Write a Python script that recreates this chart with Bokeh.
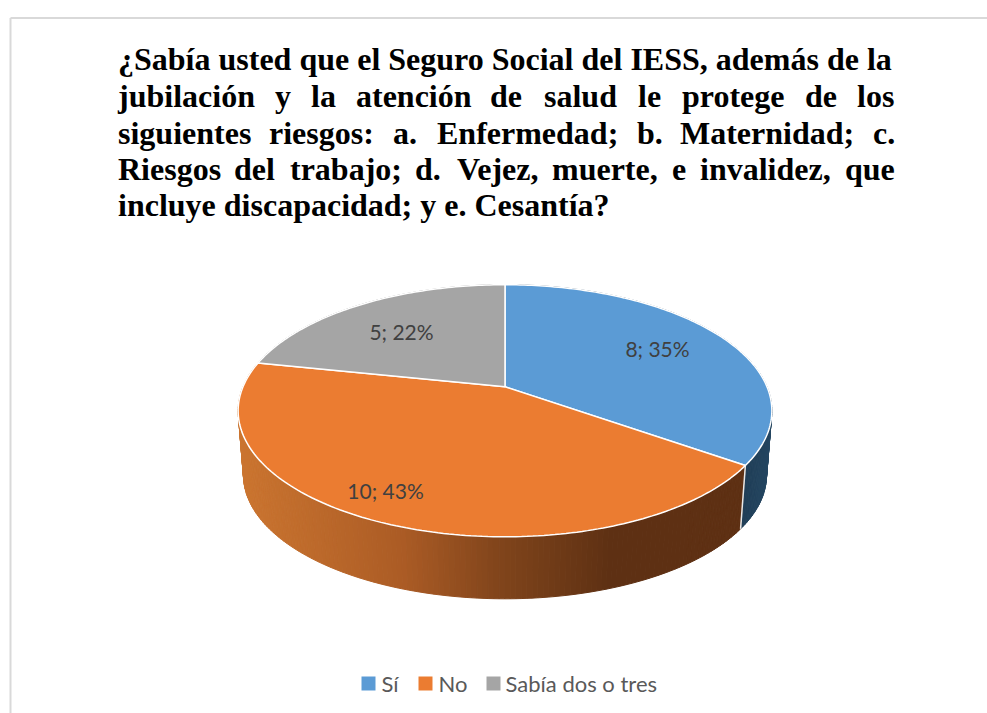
import math
from bokeh.plotting import figure
from bokeh.models import Range1d
from bokeh.core.properties import value
from bokeh.embed import file_html
from bokeh.resources import INLINE

# ---- chart data ----
categories = ["Sí", "No", "Sabía dos o tres"]
values = [8, 10, 5]
title_lines = [
    "¿Sabía usted que el Seguro Social del IESS, además de la",
    "jubilación y la atención de salud le protege de los",
    "siguientes riesgos: a. Enfermedad; b. Maternidad; c.",
    "Riesgos del trabajo; d. Vejez, muerte, e invalidez, que",
    "incluye discapacidad; y e. Cesantía?",
]

# ---- styling / layout (page pixels) ----
top_colors = ["#5B9BD5", "#EB7C31", "#A5A5A5"]
W, H = 987, 713
CX, CY = 504.5, 386.3
A, B, K = 262.0, 121.5, 0.19
DROP, SHRINK = 65.0, 0.98
SEG = 1  # degrees per rim facet
TITLE_X = {
    1: [117.5, 274.5, 310.5, 355.5, 489.5, 543.5, 637.5, 681.5, 804.5, 856.5],
    2: [117.5, 268.5, 392.5, 436.5, 636.5, 679.5, 872.5],
    3: [117.5, 233.5, 289.5, 414.5, 456.5, 551.5, 671.5, 699.5, 844.5],
}
TITLE_Y = [58.5, 95.5, 132.5, 168.5, 204.5]
LABEL_POS = [(657, 347.5), (385, 489.5), (401, 330.5)]


def project(deg, drop=0.0, scale=1.0):
    t = math.radians(deg)
    u, v = math.sin(t), -math.cos(t)
    w = 1 - K * v
    return CX + scale * A * u / w, CY + drop + scale * B * v / w


def lerp(c1, c2, f):
    f = max(0.0, min(1.0, f))
    return tuple(round(a + (b - a) * f) for a, b in zip(c1, c2))


def side_color(idx, x):
    if idx == 0:
        c = lerp((0x20, 0x3E, 0x57), (0x25, 0x47, 0x62), (x - 745) / 27)
    elif idx == 1:
        stops = [(238, (0xCB, 0x75, 0x30)), (400, (0xAC, 0x5C, 0x25)),
                 (500, (0x80, 0x44, 0x1B)), (610, (0x5E, 0x30, 0x13)),
                 (745, (0x5E, 0x30, 0x13))]
        c = stops[-1][1]
        for (x0, c0), (x1, c1) in zip(stops, stops[1:]):
            if x <= x1:
                c = lerp(c0, c1, (x - x0) / (x1 - x0))
                break
    else:
        c = (0x63, 0x63, 0x63)
    return "#%02x%02x%02x" % c


total = sum(values)
bounds = [0.0]
for val in values:
    bounds.append(bounds[-1] + 360.0 * val / total)

p = figure(width=W, height=H, output_backend="svg", toolbar_location=None,
           x_range=Range1d(0, W), y_range=Range1d(H, 0),
           x_axis_type=None, y_axis_type=None, min_border=0,
           outline_line_color=None, background_fill_color="white",
           border_fill_color="white")
p.grid.visible = False

# frame of the picture
p.segment(x0=[10, 10], y0=[17.5, 17.5], x1=[W, 10], y1=[17.5, H],
          line_color="#d9d9d9", line_width=2)

# rim facets, back to front
facets = []
for i in range(len(values)):
    a0, a1 = bounds[i], bounds[i + 1]
    n = max(1, int(math.ceil((a1 - a0) / SEG)))
    for j in range(n):
        s = a0 + (a1 - a0) * j / n
        e = a0 + (a1 - a0) * (j + 1) / n
        x0, y0 = project(s)
        x1, y1 = project(e)
        x2, y2 = project(e, DROP, SHRINK)
        x3, y3 = project(s, DROP, SHRINK)
        facets.append((y0 + y1, [x0, x1, x2, x3], [y0, y1, y2, y3],
                       side_color(i, (x0 + x1) / 2)))
facets.sort(key=lambda f: f[0])
cols = [f[3] for f in facets]
p.patches([f[1] for f in facets], [f[2] for f in facets], fill_color=cols,
          line_color=cols, line_width=1)

# white edges on the rim where slices meet, at the front
for b in bounds[:-1]:
    if 90 < b % 360 < 270:
        xa, ya = project(b)
        xb, yb = project(b, DROP, SHRINK)
        p.line([xa, xb], [ya, yb], line_color="#e8e8e8", line_width=1.5)

# top faces
for i in range(len(values)):
    a0, a1 = bounds[i], bounds[i + 1]
    n = int(math.ceil((a1 - a0)))
    pts = [project(a0 + (a1 - a0) * j / n) for j in range(n + 1)]
    xs = [CX] + [q[0] for q in pts]
    ys = [CY] + [q[1] for q in pts]
    p.patch(xs, ys, fill_color=top_colors[i], line_color="white", line_width=1.5)

# data labels
p.text([q[0] for q in LABEL_POS], [q[1] for q in LABEL_POS],
       text=[f"{v}; {round(100 * v / total)}%" for v in values],
       text_font=value("Lato"), text_font_size="21px", text_color="#404040",
       text_align="center", text_baseline="middle")

# title
for n, (line, y) in enumerate(zip(title_lines, TITLE_Y)):
    if n in TITLE_X:
        words = line.split(" ")
        xs = TITLE_X[n]
        ys = [y] * len(words)
    else:
        words, xs, ys = [line], [117.5], [y]
    p.text(xs, ys, text=words, text_font=value("Liberation Serif"),
           text_font_style="bold", text_font_size="32px", text_color="#000000",
           text_align="left", text_baseline="middle")

# legend
LEG_SQ = [361, 418, 486]
LEG_TX = [381, 438, 505]
p.quad(left=LEG_SQ, right=[s + 14 for s in LEG_SQ], top=[676] * 3, bottom=[690] * 3,
       fill_color=top_colors, line_color=None)
p.text(LEG_TX, [683] * 3, text=categories, text_font=value("Lato"),
       text_font_size="22px", text_color="#595959", text_align="left",
       text_baseline="middle")

open("out.html", "w").write(file_html(p, INLINE))
